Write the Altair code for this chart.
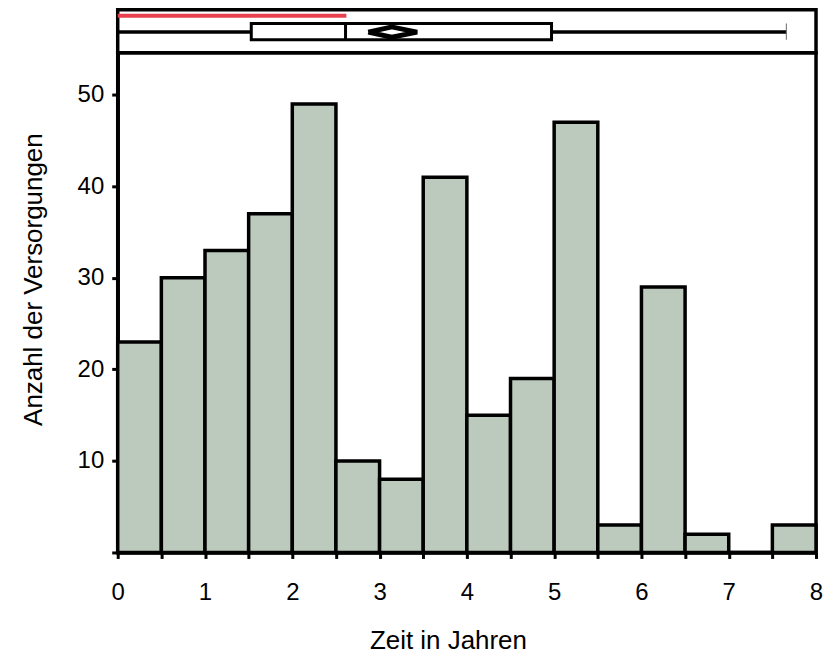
import altair as alt
import pandas as pd

# ---- data ----
bin_start = [0.0, 0.5, 1.0, 1.5, 2.0, 2.5, 3.0, 3.5, 4.0, 4.5, 5.0, 5.5, 6.0, 6.5, 7.0, 7.5]
counts = [23, 30, 33, 37, 49, 10, 8, 41, 15, 19, 47, 3, 29, 2, 0, 3]
bin_width = 0.5
x_ticks = [0, 0.5, 1, 1.5, 2, 2.5, 3, 3.5, 4, 4.5, 5, 5.5, 6, 6.5, 7, 7.5, 8]
y_ticks = [0, 10, 20, 30, 40, 50]

# box plot summary (years)
whisker_lo = [0.0]
q1 = [1.53]
median = [2.61]
q3 = [4.97]
whisker_hi = [7.66]
mean = [3.14]
mean_ci = [2.87, 3.43]
shortest_half = [0.0, 2.62]

FONT = "Liberation Sans"
W = 700
SW = 3.5

hist_df = pd.DataFrame({
    "start": bin_start,
    "end": [s + bin_width for s in bin_start],
    "count": counts,
})

xscale = alt.Scale(domain=[0, 8], nice=False, zero=False)

bars = alt.Chart(hist_df).mark_bar(
    fill="#BCCABD", stroke="black", strokeWidth=SW
).encode(
    x=alt.X("start:Q", scale=xscale,
            axis=alt.Axis(values=x_ticks, title="Zeit in Jahren",
                          labelExpr="datum.value % 1 == 0 ? format(datum.value, 'd') : ''",
                          labelFlush=False,
                          grid=False, tickSize=6, tickWidth=3, tickColor="black",
                          domainColor="black", domainWidth=SW,
                          labelFontSize=24, labelPadding=22, labelColor="black",
                          titleFontSize=26, titlePadding=23, titleFontWeight="normal",
                          titleX=331, titleColor="black", labelFont=FONT, titleFont=FONT)),
    x2="end:Q",
    y=alt.Y("count:Q", scale=alt.Scale(domain=[0, 54.6], nice=False),
            axis=alt.Axis(values=y_ticks, title="Anzahl der Versorgungen",
                          labelExpr="datum.value == 0 ? '' : format(datum.value, 'd')",
                          labelFlush=False,
                          grid=False, tickSize=6, tickWidth=3, tickColor="black",
                          domainColor="black", domainWidth=SW,
                          labelFontSize=24, labelPadding=8, labelColor="black",
                          titleFontSize=26, titlePadding=31, titleFontWeight="normal",
                          titleY=227, titleColor="black", labelFont=FONT, titleFont=FONT)),
    y2=alt.datum(0),
).properties(width=W, height=501)

# ---- box plot panel ----
yb = alt.Scale(domain=[0, 1], nice=False)


def seg(x0, x1, y, color="black", sw=3):
    df = pd.DataFrame({"x": [x0], "x2": [x1], "y": [y]})
    return alt.Chart(df).mark_rule(color=color, strokeWidth=sw).encode(
        x=alt.X("x:Q", scale=xscale, axis=None), x2="x2:Q",
        y=alt.Y("y:Q", scale=yb, axis=None))


def vseg(x, y0, y1, color="black", sw=3):
    df = pd.DataFrame({"x": [x], "y": [y0], "y2": [y1]})
    return alt.Chart(df).mark_rule(color=color, strokeWidth=sw).encode(
        x=alt.X("x:Q", scale=xscale, axis=None),
        y=alt.Y("y:Q", scale=yb, axis=None), y2="y2:Q")


MID = 0.48
BOX_LO, BOX_HI = 0.30, 0.68

red = seg(shortest_half[0], shortest_half[1], 0.86, color="#E8404F", sw=4)
w_left = seg(whisker_lo[0], q1[0], MID, sw=3.5)
w_right = seg(q3[0], whisker_hi[0], MID, sw=3.5)
cap = vseg(whisker_hi[0], BOX_LO, BOX_HI, color="#666666", sw=1)

box_df = pd.DataFrame({"q1": q1, "q3": q3, "lo": [BOX_LO], "hi": [BOX_HI]})
box = alt.Chart(box_df).mark_rect(fill="white", stroke="black", strokeWidth=3).encode(
    x=alt.X("q1:Q", scale=xscale, axis=None), x2="q3:Q",
    y=alt.Y("lo:Q", scale=yb, axis=None), y2="hi:Q")
med = vseg(median[0], BOX_LO, BOX_HI)

dia_df = pd.DataFrame({
    "x": [mean_ci[0], mean[0], mean_ci[1], mean[0], mean_ci[0]],
    "y": [MID, MID + 0.12, MID, MID - 0.12, MID],
    "o": [0, 1, 2, 3, 4],
})
diamond = alt.Chart(dia_df).mark_line(color="black", strokeWidth=5, strokeJoin="miter").encode(
    x=alt.X("x:Q", scale=xscale, axis=None),
    y=alt.Y("y:Q", scale=yb, axis=None),
    order="o:Q")

top = alt.layer(red, w_left, w_right, cap, box, med, diamond).properties(width=W, height=43)

chart = alt.vconcat(top, bars, spacing=0, bounds="flush").properties(
    padding={"left": 18, "top": 7, "right": 0, "bottom": 0},
    background="white",
).configure_view(stroke="black", strokeWidth=SW)

chart.save("out.html", embed_options={"renderer": "svg", "actions": False})
